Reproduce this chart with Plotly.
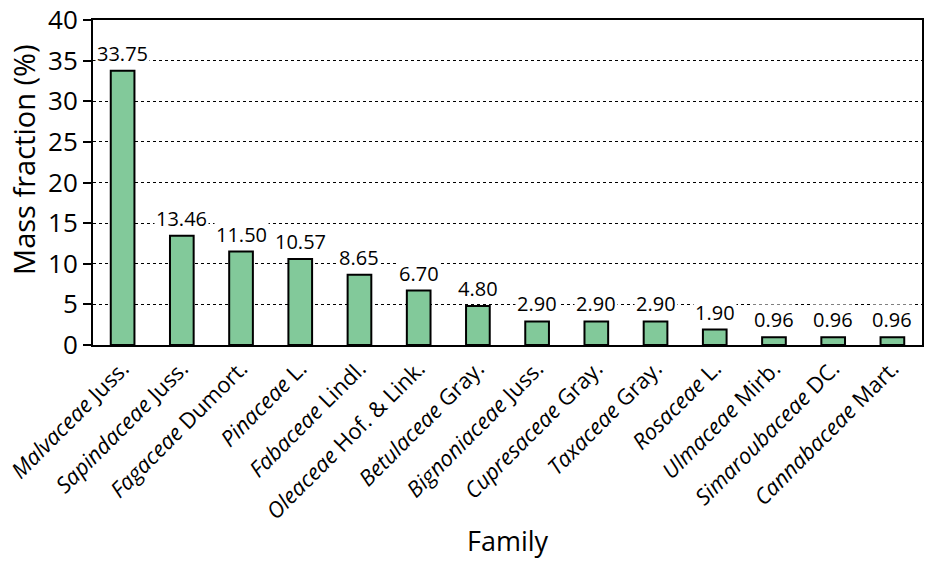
import plotly.graph_objects as go

# family (italic part), authority (regular part) and mass fraction
families = ['Malvaceae', 'Sapindaceae', 'Fagaceae', 'Pinaceae', 'Fabaceae', 'Oleaceae',
            'Betulaceae', 'Bignoniaceae', 'Cupresaceae', 'Taxaceae', 'Rosaceae',
            'Ulmaceae', 'Simaroubaceae', 'Cannabaceae']
authors = ['Juss.', 'Juss.', 'Dumort.', 'L.', 'Lindl.', 'Hof. & Link.', 'Gray.', 'Juss.',
           'Gray.', 'Gray.', 'L.', 'Mirb.', 'DC.', 'Mart.']
mass_fraction = [33.75, 13.46, 11.50, 10.57, 8.65, 6.70, 4.80, 2.90, 2.90, 2.90, 1.90,
                 0.96, 0.96, 0.96]
y_ticks = [0, 5, 10, 15, 20, 25, 30, 35, 40]

labels = [f'<i>{f}</i> {a}' for f, a in zip(families, authors)]
font = 'Open Sans, Noto Sans, sans-serif'

fig = go.Figure(go.Bar(
    x=labels, y=mass_fraction, width=0.4,
    marker=dict(color='#82C99A', line=dict(color='black', width=2)),
))

# value labels with white background so they cover the gridlines
for lab, v in zip(labels, mass_fraction):
    fig.add_annotation(x=lab, y=v, text=f'{v:.2f}', showarrow=False, yanchor='bottom',
                       yshift=2, bgcolor='white', borderpad=1,
                       font=dict(size=20, color='black', family=font))

# axis titles as annotations so they sit where the original has them
fig.add_annotation(text='Family', xref='paper', yref='paper', x=0.5, y=-0.6,
                   showarrow=False, yanchor='middle', font=dict(size=27))
fig.add_annotation(text='Mass fraction (%)', xref='paper', yref='paper', x=-0.083, y=0.57,
                   showarrow=False, textangle=-90, xanchor='center', yanchor='middle',
                   font=dict(size=29))

fig.update_layout(
    width=927, height=563, plot_bgcolor='white', paper_bgcolor='white',
    margin=dict(l=93, r=5, t=20, b=218), showlegend=False,
    font=dict(family=font, color='black'),
)
fig.update_xaxes(automargin=False, tickangle=-45, tickfont=dict(size=22),
                 showline=True, linecolor='black', linewidth=2, mirror=True,
                 ticks='', showgrid=False)
fig.update_yaxes(automargin=False, range=[0, 40], tickvals=y_ticks, tickfont=dict(size=26),
                 ticklabeloverflow='allow',
                 showline=True, linecolor='black', linewidth=2, mirror=True,
                 ticks='outside', ticklen=8, tickwidth=2, tickcolor='black',
                 showgrid=True, gridcolor='black', gridwidth=1.2, griddash='dot',
                 zeroline=False)

# drop the default 8px page margin so the figure fills the window
fig.write_html('out.html', config={'displayModeBar': False},
               post_script="document.body.style.margin = '0';")
